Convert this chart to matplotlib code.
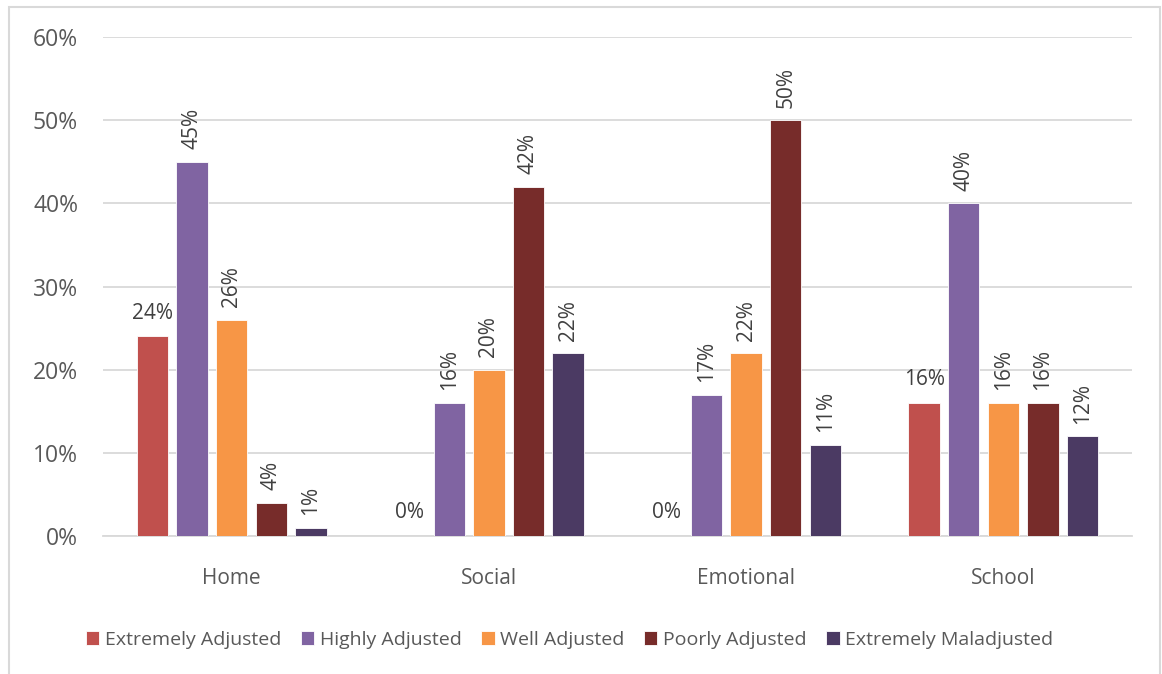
import matplotlib
matplotlib.use("Agg")
import matplotlib.pyplot as plt
import numpy as np
from matplotlib.patches import Rectangle

plt.rcParams['font.family'] = ['Open Sans', 'DejaVu Sans']

categories = ["Home", "Social", "Emotional", "School"]
series_names = ["Extremely Adjusted", "Highly Adjusted", "Well Adjusted",
                "Poorly Adjusted", "Extremely Maladjusted"]
values = {
    "Extremely Adjusted":    [24, 0, 0, 16],
    "Highly Adjusted":       [45, 16, 17, 40],
    "Well Adjusted":         [26, 20, 22, 16],
    "Poorly Adjusted":       [4, 42, 50, 16],
    "Extremely Maladjusted": [1, 22, 11, 12],
}
colors = ["#C0504D", "#8064A2", "#F79646", "#772C2A", "#4B3A63"]
yticks = [0, 10, 20, 30, 40, 50, 60]

text_color = "#595959"
label_color = "#404040"
W, H = 1162, 674
fig = plt.figure(figsize=(W / 100, H / 100), dpi=100)
# outer chart border
fig.patches.append(Rectangle((9 / W, -0.01), (1160 - 9) / W, 1 - 7 / H + 0.01,
                             transform=fig.transFigure, fill=False,
                             edgecolor="#D9D9D9", linewidth=1.5))

ax = fig.add_axes([103 / W, 1 - 536 / H, (1132 - 103) / W, (536 - 37) / H])
x = np.arange(len(categories))
bw = 0.122
step = 0.154
for i, name in enumerate(series_names):
    pos = x + (i - 2) * step
    vals = values[name]
    ax.bar(pos, vals, width=bw, color=colors[i], edgecolor="white",
           linewidth=0.6, label=name, zorder=3)
    for px, v in zip(pos, vals):
        if i == 0:
            ax.annotate(f"{v}%", (px, v), xytext=(0, 9), textcoords="offset points",
                        ha="center", va="bottom", fontsize=15, color=label_color)
        else:
            ax.annotate(f"{v}%", (px, v), xytext=(0, 9), textcoords="offset points",
                        ha="center", va="bottom", rotation=90, fontsize=15,
                        color=label_color)

ax.set_xlim(-0.5, len(categories) - 0.5)
ax.set_ylim(0, 60)
ax.set_yticks(yticks)
ax.set_yticklabels([f"{t}%" for t in yticks])
ax.set_xticks(x)
ax.set_xticklabels(categories)
ax.tick_params(axis="both", length=0, colors=text_color)
ax.tick_params(axis="y", pad=18, labelsize=16.5)
ax.tick_params(axis="x", pad=23, labelsize=15)
ax.grid(axis="y", color="#D9D9D9", linewidth=1.3, zorder=0)
for s in ["top", "right", "left"]:
    ax.spines[s].set_visible(False)
ax.spines["bottom"].set_color("#D9D9D9")
ax.spines["bottom"].set_linewidth(1.3)

leg = fig.legend(loc="center", bbox_to_anchor=(0.49, 1 - 640 / H), ncol=5,
                 frameon=False, fontsize=14, handlelength=0.7, handleheight=0.7,
                 handletextpad=0.28, columnspacing=1.0)
for t in leg.get_texts():
    t.set_color(text_color)

fig.savefig("out.png", dpi=100)
